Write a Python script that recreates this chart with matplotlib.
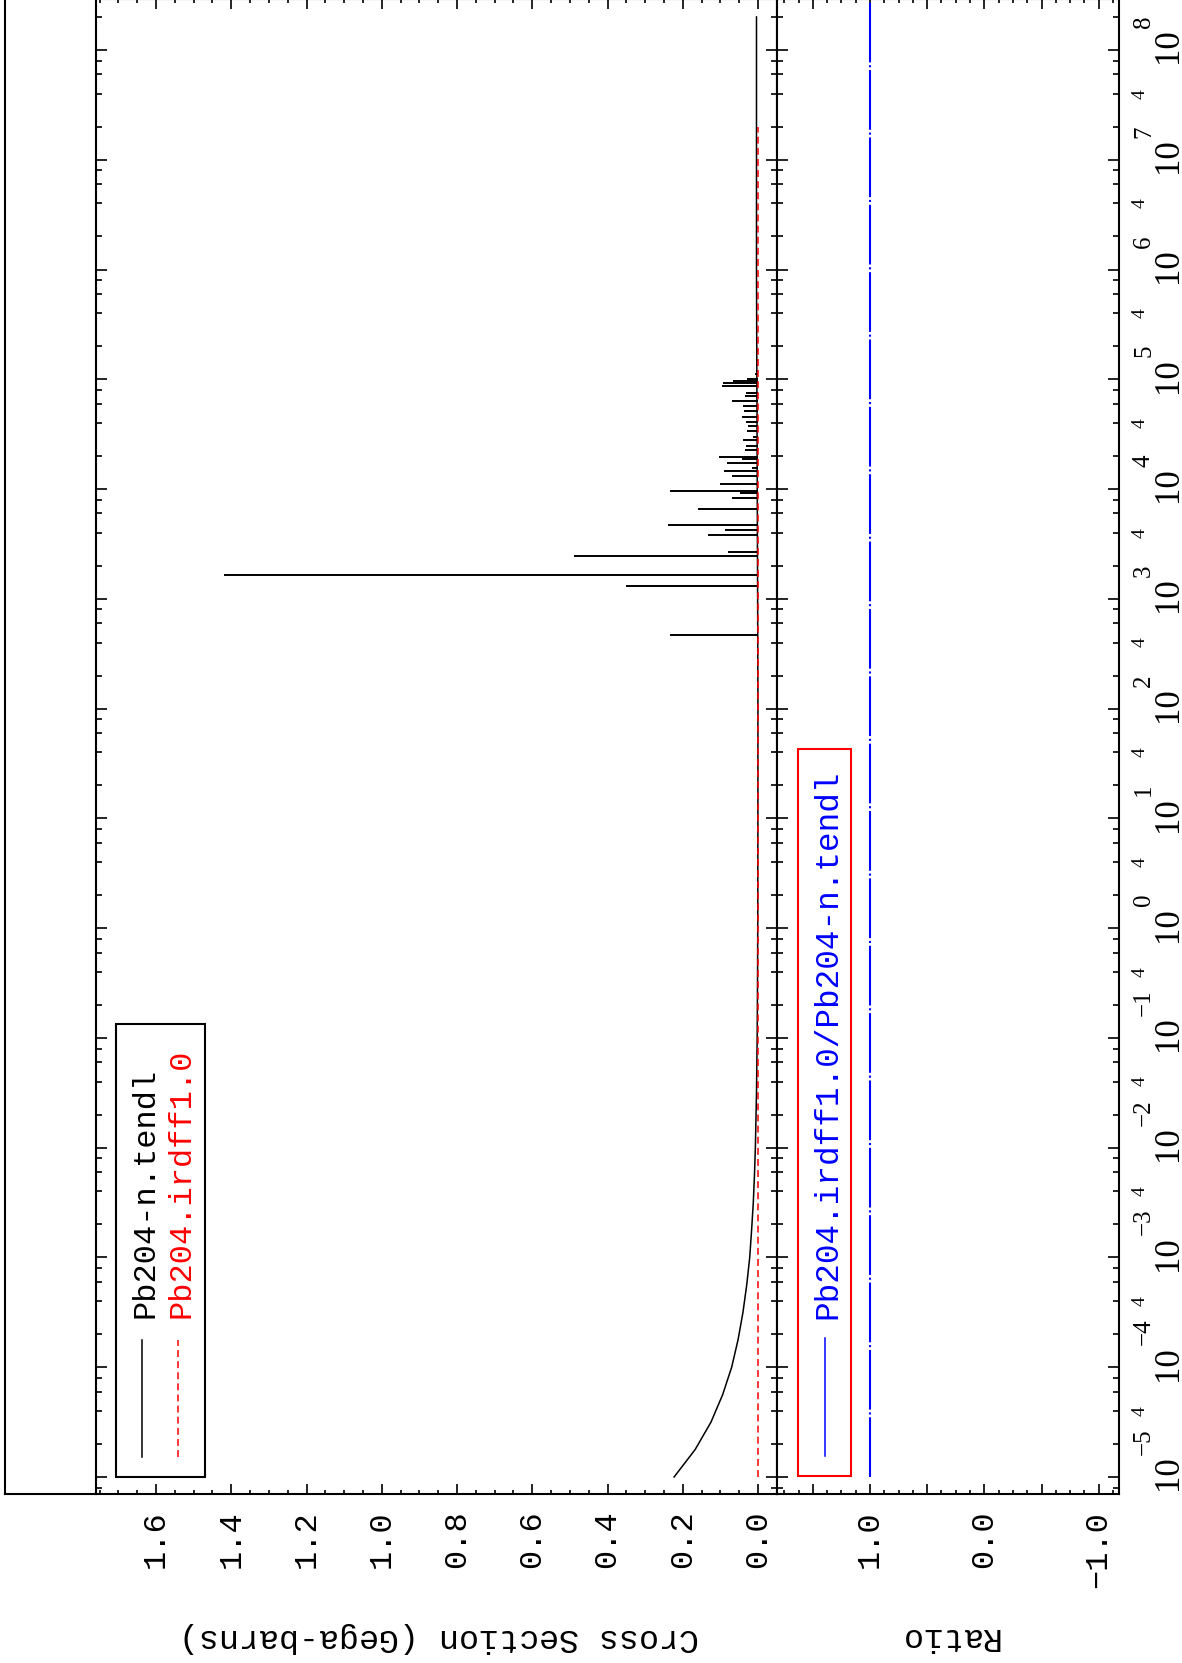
import numpy as np
import matplotlib
matplotlib.use('Agg')
import matplotlib.pyplot as plt
import matplotlib.transforms as mtransforms
from matplotlib.ticker import FixedLocator, FuncFormatter, LogLocator, MultipleLocator, NullFormatter
from matplotlib.lines import Line2D
from matplotlib.patches import Rectangle

W, H = 1182, 1663

plt.rcParams['font.family'] = ['Liberation Mono', 'DejaVu Sans']
plt.rcParams['axes.linewidth'] = 1.5
plt.rcParams['lines.scale_dashes'] = False

# smooth part of Pb204-n.tendl (energy in eV, cross section)
tendl_E = [1e-5, 1.78e-5, 3.16e-5, 5.62e-5, 1e-4, 1.78e-4, 3.16e-4, 5.62e-4,
           1e-3, 1.78e-3, 3.16e-3, 5.62e-3, 1e-2, 3.16e-2, 0.1, 0.316, 1.0,
           10.0, 100.0, 1e3, 1e4, 1e5, 1e6, 1e7, 2e8]
tendl_xs = [0.223, 0.167, 0.125, 0.094, 0.070, 0.053, 0.040, 0.030,
            0.022, 0.017, 0.0125, 0.0094, 0.0070, 0.0040, 0.0022, 0.0013, 0.0007,
            0.0003, 0.0002, 0.001, 0.002, 0.003, 0.004, 0.004, 0.004]

# resonance peaks of Pb204-n.tendl
res_E = [470, 1313, 1663, 2466, 2698, 3802, 4255, 4690, 6650, 8375, 9120, 9575,
         11220, 13180, 14650, 15700, 17450, 18850, 19770, 22750, 24760, 27900,
         29900, 33900, 37670, 41220, 45500, 51600, 57300, 63630, 70660, 75700,
         87100, 92200, 96800, 101700, 112000, 120000, 135000, 150000, 180000]
res_xs = [0.234, 0.35, 1.42, 0.489, 0.080, 0.133, 0.088, 0.239, 0.160, 0.069, 0.048, 0.234,
          0.100, 0.069, 0.090, 0.016, 0.082, 0.043, 0.104, 0.035, 0.032, 0.040,
          0.013, 0.029, 0.026, 0.032, 0.042, 0.037, 0.040, 0.070, 0.035, 0.032,
          0.096, 0.093, 0.066, 0.030, 0.008, 0.006, 0.005, 0.004, 0.004]

# Pb204.irdff1.0
irdff_E = [1e-5, 1e-2, 1.0, 1e3, 1e5, 2e7]
irdff_xs = [0.001, 0.001, 0.001, 0.001, 0.001, 0.001]

# ratio irdff / tendl
ratio_E = [1e-5, 1e9]
ratio_val = [1.0, 1.0]


def fx(px):
    return px / W


def fy(py):
    return 1 - py / H


fig = plt.figure(figsize=(W / 100, H / 100), dpi=100)
ax1 = fig.add_axes([fx(96), fy(1494), fx(777) - fx(96), fy(-1) - fy(1494)])
ax2 = fig.add_axes([fx(777), fy(1494), fx(1119) - fx(777), fy(-1) - fy(1494)], sharey=ax1)

ax1.plot(tendl_xs, tendl_E, color='black', lw=1.1)
ax1.hlines(res_E, 0.0, res_xs, colors='black', lw=1.4)
ax1.plot(irdff_xs, irdff_E, color='red', lw=1.1, linestyle=(0, (5, 3)))
ax2.plot(ratio_val, ratio_E, color='blue', lw=1.5, linestyle=(0, (43, 2, 1.5, 2)))

ax1.set_yscale('log')
ax1.set_ylim(10 ** -5.1549, 10 ** 8.4646)
ax1.set_xlim(1.7595, -0.0505)
ax2.set_xlim(1.814, -1.178)

# cross section axis
ax1.xaxis.set_major_locator(MultipleLocator(0.2))
ax1.xaxis.set_minor_locator(MultipleLocator(0.05))
ax1.xaxis.set_major_formatter(FuncFormatter(lambda v, p: f'{abs(v) if abs(v) < 1e-9 else v:.1f}'))

# ratio axis
ax2.xaxis.set_major_locator(FixedLocator([-1.0, -0.5, 0.0, 0.5, 1.0, 1.5]))
ax2.xaxis.set_minor_locator(MultipleLocator(0.125))


def ratio_fmt(v, p):
    if abs(v - round(v)) > 1e-6:
        return ''
    s = f'{abs(v):.1f}'
    return '\u2212' + s if v < -1e-9 else s


ax2.xaxis.set_major_formatter(FuncFormatter(ratio_fmt))

for ax in (ax1, ax2):
    ax.tick_params(axis='x', which='both', direction='in', top=True, bottom=True,
                   labelbottom=True, labelrotation=90, labelsize=23, pad=12, width=1.2)
    ax.tick_params(axis='x', which='major', length=7.5)
    ax.tick_params(axis='x', which='minor', length=3)
    ax.tick_params(axis='y', which='both', direction='in', left=True, right=True,
                   labelleft=False, labelright=False, width=1.2)
    ax.tick_params(axis='y', which='major', length=8)
    ax.tick_params(axis='y', which='minor', length=4.3)

# energy axis: ticks from the locators, labels written beside the right spine
ax1.yaxis.set_major_locator(LogLocator(base=10, numticks=40))
ax1.yaxis.set_minor_locator(LogLocator(base=10, subs=[2, 4, 6, 8], numticks=40))
ax1.yaxis.set_major_formatter(NullFormatter())
ax1.yaxis.set_minor_formatter(NullFormatter())

lo, hi = ax2.get_ylim()
edge = mtransforms.blended_transform_factory(ax2.transAxes, ax2.transData)
base_tr = mtransforms.offset_copy(edge, fig=fig, x=49, y=4, units='dots')
exp_tr = mtransforms.offset_copy(edge, fig=fig, x=25, y=22, units='dots')
four_tr = mtransforms.offset_copy(edge, fig=fig, x=21, y=0, units='dots')
serif = 'Liberation Serif'
for v in ax2.yaxis.get_majorticklocs():
    if lo <= v <= hi:
        n = int(round(np.log10(v)))
        ax2.text(1, v, '10', transform=base_tr, rotation=90, ha='center', va='center',
                 fontsize=25, family=serif, clip_on=False)
        ax2.text(1, v, str(n).replace('-', '\u2212'), transform=exp_tr, rotation=90,
                 ha='center', va='bottom', fontsize=18, family=serif, clip_on=False)
for v in ax2.yaxis.get_minorticklocs():
    m = v / 10 ** np.floor(np.log10(v) + 1e-9)
    if lo <= v <= hi and abs(m - 4) < 1e-6:
        ax2.text(1, v, '4', transform=four_tr, rotation=90, ha='center', va='center',
                 fontsize=14, family=serif, clip_on=False)

# axis titles
fig.text(fx(439), fy(1637), 'Cross Section (Gega-barns)', rotation=180,
         ha='center', va='center', fontsize=24)
fig.text(fx(948), fy(1637), 'Ratio', rotation=180, ha='center', va='center', fontsize=24)

# legend of the upper panel
fig.add_artist(Rectangle((fx(116), fy(1477)), fx(205) - fx(116), fy(1024) - fy(1477),
                         transform=fig.transFigure, fill=False, ec='black', lw=1.5))
fig.add_artist(Line2D([fx(142), fx(142)], [fy(1456.6), fy(1339.5)], color='black', lw=1.1))
fig.add_artist(Line2D([fx(178), fx(178)], [fy(1456.6), fy(1339.5)], color='red', lw=1.1,
                      linestyle=(0, (5, 3))))
fig.text(fx(146), fy(1318), 'Pb204-n.tendl', rotation=90, ha='center', va='bottom',
         fontsize=23, color='black')
fig.text(fx(182), fy(1318), 'Pb204.irdff1.0', rotation=90, ha='center', va='bottom',
         fontsize=23, color='red')

# legend of the ratio panel
fig.add_artist(Rectangle((fx(798), fy(1476)), fx(851) - fx(798), fy(749) - fy(1476),
                         transform=fig.transFigure, fill=False, ec='red', lw=1.5))
fig.add_artist(Line2D([fx(825), fx(825)], [fy(1456), fy(1338)], color='blue', lw=1.1))
fig.text(fx(828), fy(1318.6), 'Pb204.irdff1.0/Pb204-n.tendl', rotation=90, ha='center',
         va='bottom', fontsize=23.5, color='blue')

# outer frame
fig.add_artist(Line2D([fx(5), fx(5)], [fy(-1), fy(1494)], color='black', lw=1.5))
fig.add_artist(Line2D([fx(5), fx(96)], [fy(1494), fy(1494)], color='black', lw=1.5))

fig.savefig('out.png', dpi=100)
